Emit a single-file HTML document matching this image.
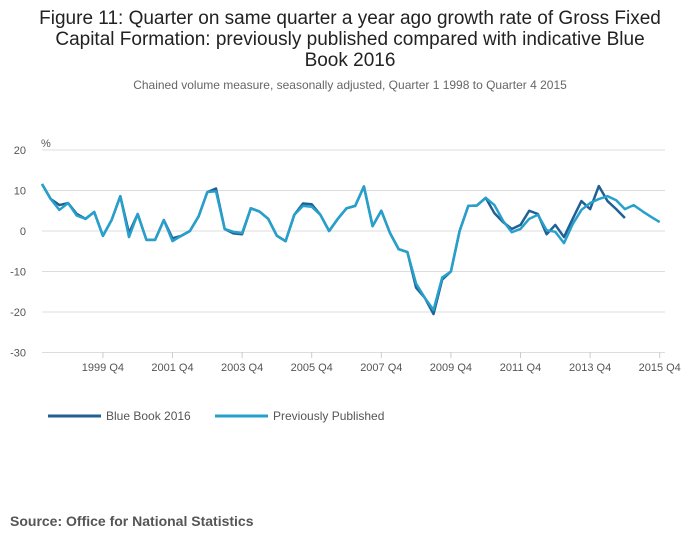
<!DOCTYPE html>
<html><head><meta charset="utf-8"><style>
body{margin:0;width:700px;height:549px;background:#fff;font-family:"Liberation Sans",sans-serif;overflow:hidden}
.t{position:absolute;left:0;width:700px;text-align:center;color:#333}
</style></head><body>
<div class="t" style="top:8px;font-size:19px;line-height:21px;color:#222">Figure 11: Quarter on same quarter a year ago growth rate of Gross Fixed<br>Capital Formation: previously published compared with indicative Blue<br>Book 2016</div>
<div class="t" style="top:78px;font-size:12px;color:#666">Chained volume measure, seasonally adjusted, Quarter 1 1998 to Quarter 4 2015</div>
<svg id="c" width="700" height="549" style="position:absolute;left:0;top:0"></svg>
<div style="position:absolute;left:10px;top:513px;font-size:14px;font-weight:bold;color:#555">Source: Office for National Statistics</div>
<script>
const yTicks=[20,10,0,-10,-20,-30];
const xTickLabels=["1999 Q4","2001 Q4","2003 Q4","2005 Q4","2007 Q4","2009 Q4","2011 Q4","2013 Q4","2015 Q4"];
const xTickIdx=[7,15,23,31,39,47,55,63,71];
const blueBook=[11.6,7.9,6.4,6.9,4.2,3.0,4.7,-1.2,2.7,8.6,-0.5,4.2,-2.2,-2.2,2.7,-1.8,-1.2,0,3.6,9.6,10.5,0.5,-0.6,-0.8,5.6,4.8,3.0,-1.2,-2.5,4.0,6.8,6.6,4,0,3,5.6,6.2,11,1.2,5,-0.5,-4.5,-5.2,-14,-16.5,-20.5,-12,-10,0,6.2,6.3,8.2,4.4,2.2,0.5,1.5,5,4.2,-0.8,1.5,-1.5,3,7.4,5.4,11.1,7.4,5.4,3.2];
const previous=[11.6,7.9,5.2,6.9,3.8,3.0,4.7,-1.2,2.7,8.6,-1.5,4.2,-2.2,-2.2,2.7,-2.5,-1.2,0,3.6,9.6,9.8,0.5,-0.2,-0.5,5.6,4.8,3.0,-1.2,-2.5,4.0,6.2,6.0,4,0,3,5.6,6.2,11,1.2,5,-0.5,-4.5,-5.2,-13,-16.5,-19.5,-11.5,-10,0,6.2,6.3,8.2,6.4,2.5,-0.3,0.5,3,4,0.2,-0.2,-3,1.7,5.2,6.9,7.9,8.6,7.6,5.4,6.4,4.9,3.5,2.2];
const svg=document.getElementById('c');const NS='http://www.w3.org/2000/svg';
const X=i=>42+i*8.70, Y=v=>231-v*4.05;
function mk(t,a){const e=document.createElementNS(NS,t);for(const k in a)e.setAttribute(k,a[k]);svg.appendChild(e);return e;}
yTicks.forEach(v=>{
 const l=mk('line',{x1:42,x2:665,y1:Y(v),y2:Y(v),stroke:'#ddd','stroke-width':1});
 
 
 const t=mk('text',{x:26,y:Y(v)+4,'font-size':11,fill:'#555','text-anchor':'end','font-family':'Liberation Sans'});
 t.textContent=v;
 
 
});
const u=mk('text',{x:41,y:147,'font-size':11,fill:'#555','font-family':'Liberation Sans'});u.textContent='%';


xTickIdx.forEach((idx,k)=>{
 const l=mk('line',{x1:X(idx),x2:X(idx),y1:352,y2:358,stroke:'#ccc'});
 
 
 const t=mk('text',{x:X(idx),y:371,'font-size':11,fill:'#555','text-anchor':'middle','font-family':'Liberation Sans'});
 t.textContent=xTickLabels[k];
 
 
});
function line(d,c,n){const p=mk('polyline',{points:d.map((v,i)=>X(i)+','+Y(v)).join(' '),fill:'none',stroke:c,'stroke-width':2.5,'stroke-linejoin':'round'});
 
 }
line(blueBook,'#206095','series-blue-book-2016');
line(previous,'#27a0cc','series-previously-published');
[['Blue Book 2016','#206095',48],['Previously Published','#27a0cc',215]].forEach(([n,c,x])=>{
 const l=mk('line',{x1:x,x2:x+53,y1:416,y2:416,stroke:c,'stroke-width':3});
 
 
 const t=mk('text',{x:x+58,y:420,'font-size':12,fill:'#555','font-family':'Liberation Sans'});t.textContent=n;
 
 
});
</script>
</body></html>
